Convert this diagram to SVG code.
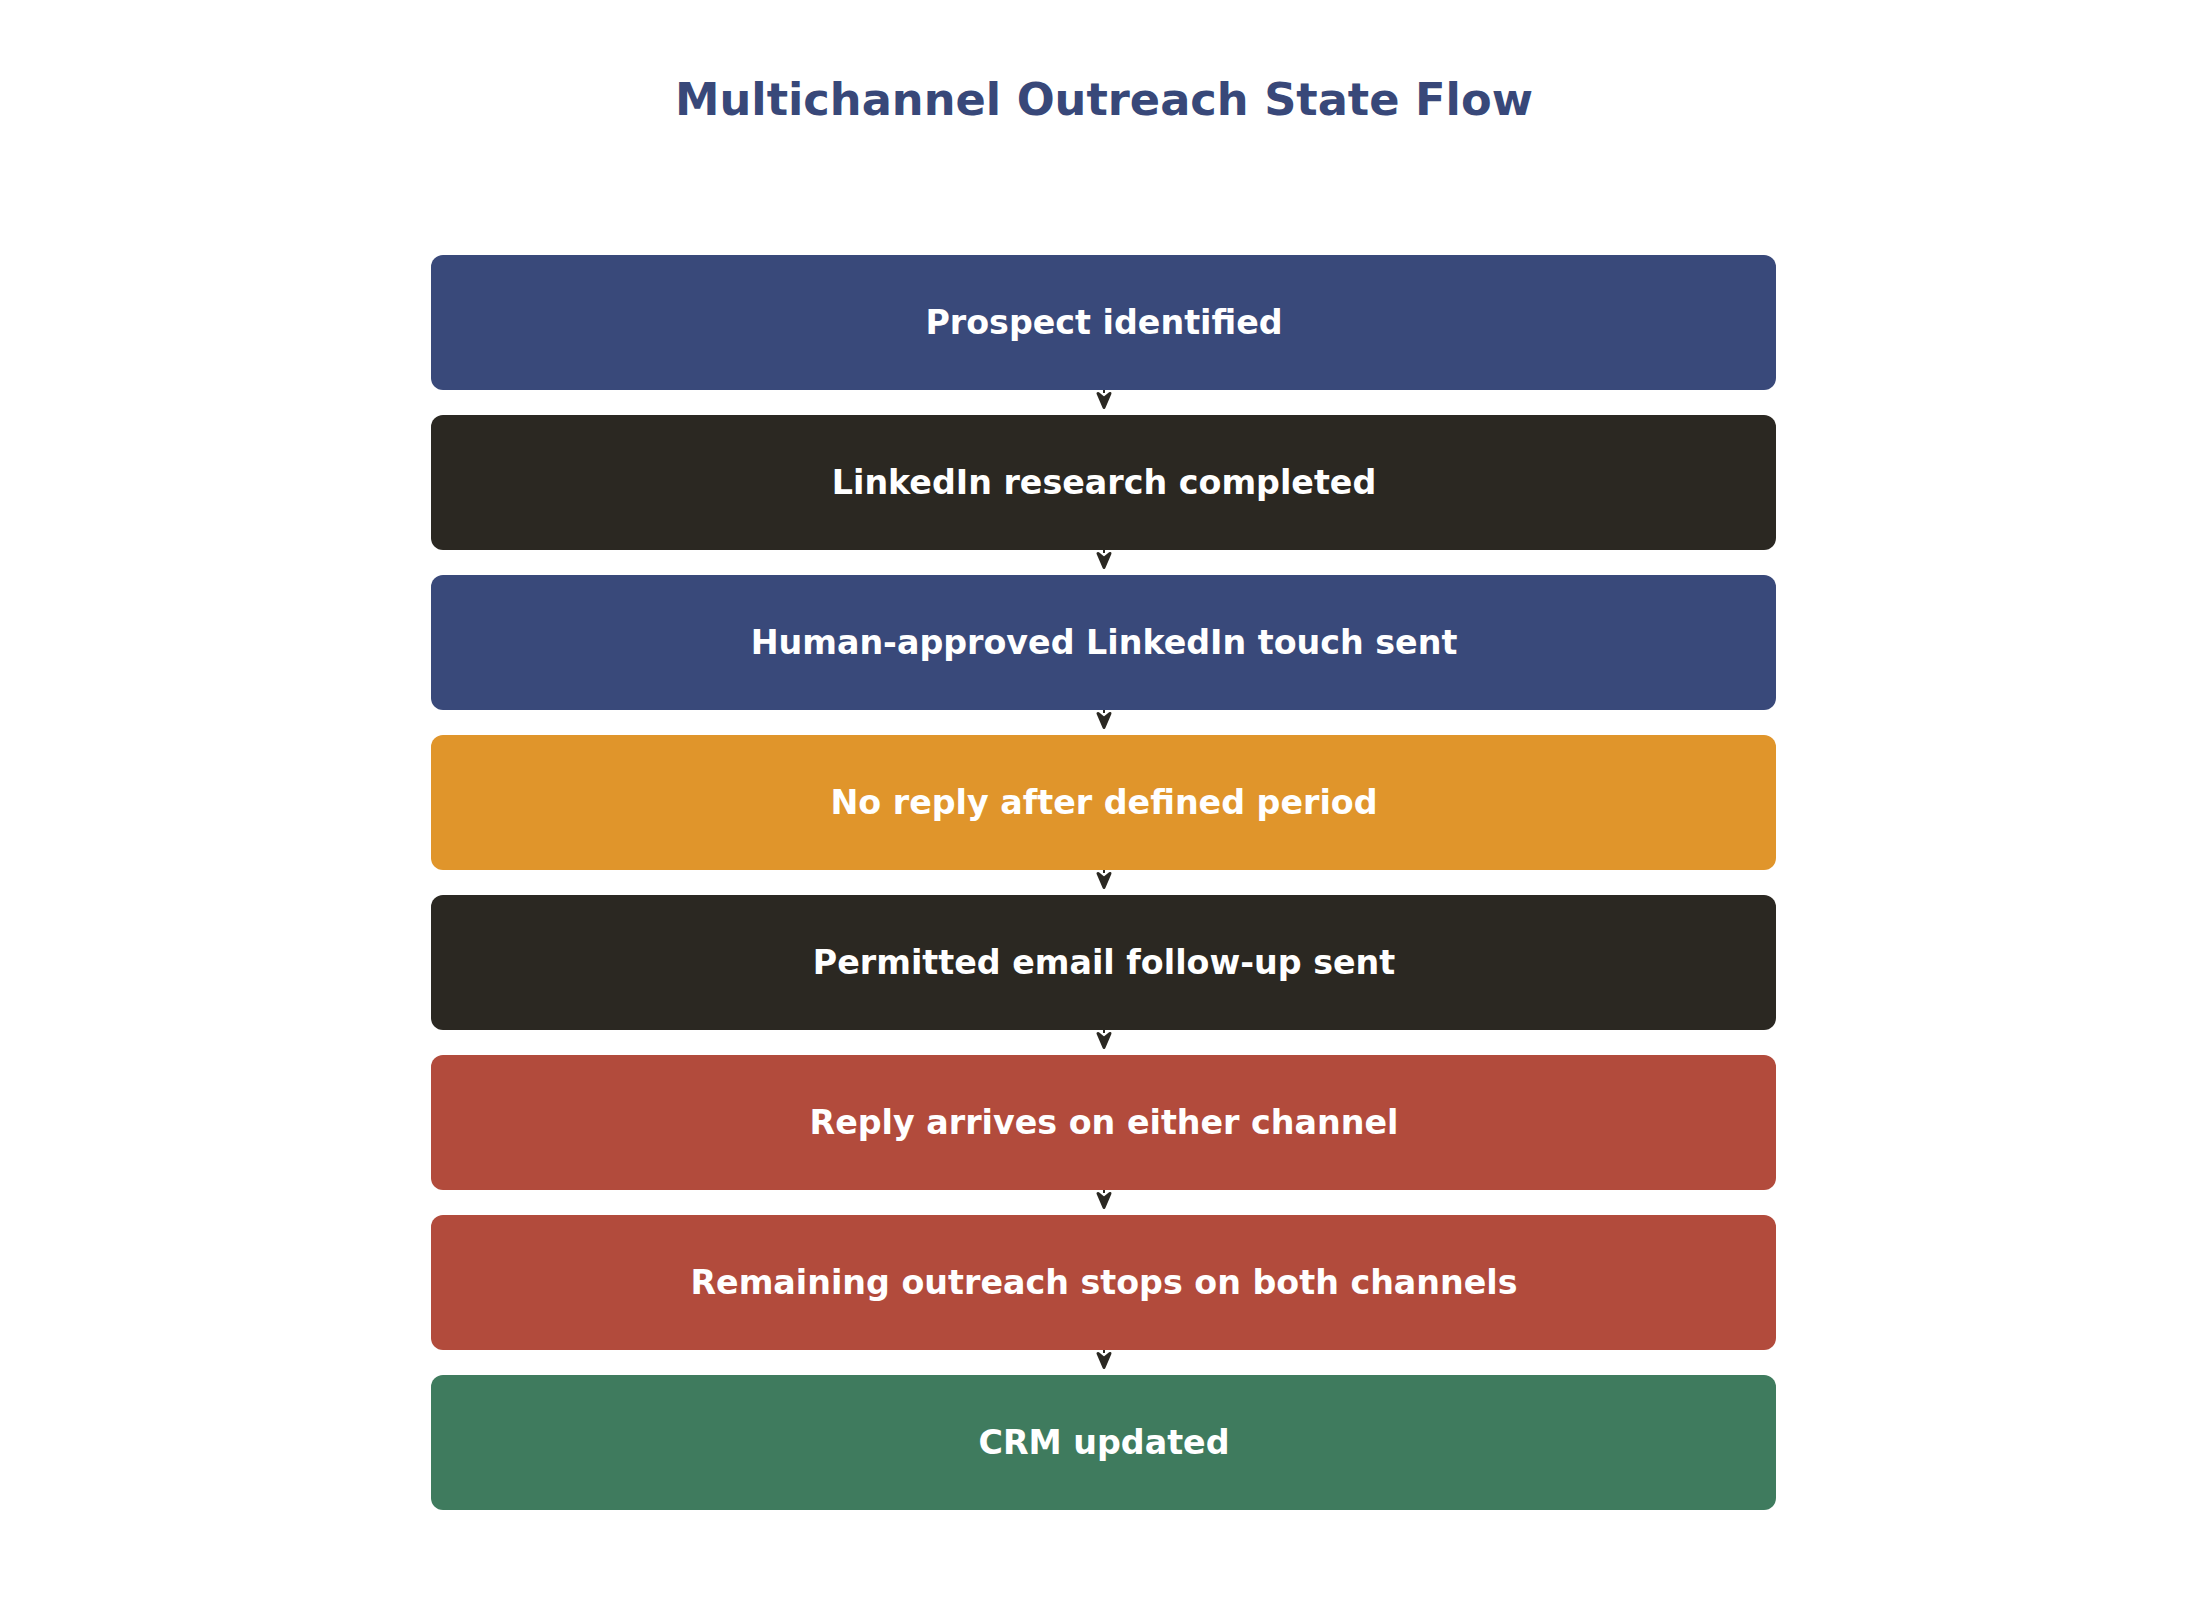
<svg xmlns="http://www.w3.org/2000/svg" width="2208" height="1615" viewBox="0 0 2208 1615">
<style>
.title{font-family:"DejaVu Sans","Liberation Sans",sans-serif;font-weight:bold;font-size:44.7px;fill:#384879;text-anchor:middle}
.lbl{font-family:"DejaVu Sans","Liberation Sans",sans-serif;font-weight:bold;font-size:33.3px;fill:#ffffff;text-anchor:middle}
.box{stroke:none}
.blue{fill:#39497a}
.dark{fill:#2b2822}
.orange{fill:#e0952b}
.red{fill:#b24b3c}
.green{fill:#3f7b5e}
.conn{stroke:#2b2822;stroke-width:2;fill:none}
</style>
<defs>
<marker id="arr" markerUnits="userSpaceOnUse" viewBox="-4 -12 24 24" markerWidth="24" markerHeight="24" refX="0" refY="0" orient="auto" overflow="visible">
<path d="M0.5,-6 L5,-0.5 L5,0.5 L0.5,6 L14.5,0 Z" fill="#2b2822" stroke="#2b2822" stroke-width="3" stroke-linejoin="round"/>
</marker>
</defs>
<rect width="2208" height="1615" fill="#ffffff"/>
<text class="title" x="1104" y="115">Multichannel Outreach State Flow</text>
<g id="connectors">
<path class="conn" d="M1104,390 L1104,393" marker-end="url(#arr)"/>
<path class="conn" d="M1104,550 L1104,553" marker-end="url(#arr)"/>
<path class="conn" d="M1104,710 L1104,713" marker-end="url(#arr)"/>
<path class="conn" d="M1104,870 L1104,873" marker-end="url(#arr)"/>
<path class="conn" d="M1104,1030 L1104,1033" marker-end="url(#arr)"/>
<path class="conn" d="M1104,1190 L1104,1193" marker-end="url(#arr)"/>
<path class="conn" d="M1104,1350 L1104,1353" marker-end="url(#arr)"/>
</g>
<g id="n1"><rect class="box blue" x="431" y="255" width="1345" height="135" rx="12"/><text class="lbl" x="1104" y="334">Prospect identified</text></g>
<g id="n2"><rect class="box dark" x="431" y="415" width="1345" height="135" rx="12"/><text class="lbl" x="1104" y="494">LinkedIn research completed</text></g>
<g id="n3"><rect class="box blue" x="431" y="575" width="1345" height="135" rx="12"/><text class="lbl" x="1104" y="654">Human-approved LinkedIn touch sent</text></g>
<g id="n4"><rect class="box orange" x="431" y="735" width="1345" height="135" rx="12"/><text class="lbl" x="1104" y="814">No reply after defined period</text></g>
<g id="n5"><rect class="box dark" x="431" y="895" width="1345" height="135" rx="12"/><text class="lbl" x="1104" y="974">Permitted email follow-up sent</text></g>
<g id="n6"><rect class="box red" x="431" y="1055" width="1345" height="135" rx="12"/><text class="lbl" x="1104" y="1134">Reply arrives on either channel</text></g>
<g id="n7"><rect class="box red" x="431" y="1215" width="1345" height="135" rx="12"/><text class="lbl" x="1104" y="1294">Remaining outreach stops on both channels</text></g>
<g id="n8"><rect class="box green" x="431" y="1375" width="1345" height="135" rx="12"/><text class="lbl" x="1104" y="1454">CRM updated</text></g>
</svg>
